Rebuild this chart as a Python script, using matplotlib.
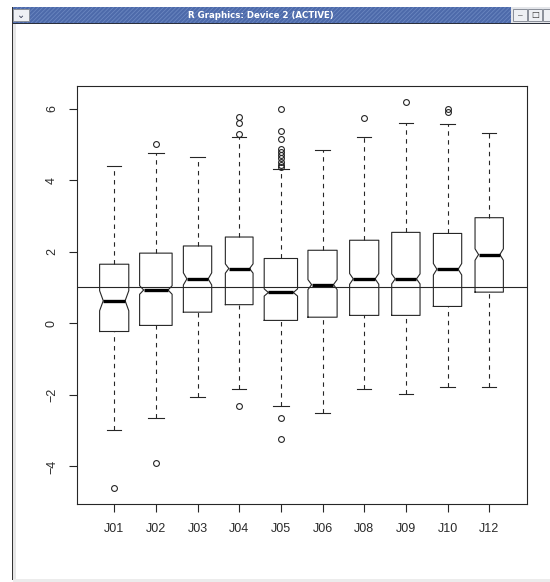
import matplotlib
matplotlib.use('Agg')
import matplotlib.pyplot as plt
from matplotlib.patches import Rectangle

plt.rcParams['font.family'] = ['Liberation Sans', 'DejaVu Sans']
plt.rcParams['hatch.linewidth'] = 0.6

W, H = 550, 582

# per-sample summary stats (notched boxplot)
labels = ['J01', 'J02', 'J03', 'J04', 'J05', 'J06', 'J08', 'J09', 'J10', 'J12']
whis_lo = [-2.98, -2.65, -2.05, -1.84, -2.31, -2.52, -1.84, -1.97, -1.77, -1.77]
q1 = [-0.23, -0.06, 0.31, 0.52, 0.08, 0.17, 0.22, 0.22, 0.47, 0.87]
medians = [0.63, 0.93, 1.24, 1.53, 0.86, 1.08, 1.24, 1.24, 1.51, 1.92]
q3 = [1.65, 1.96, 2.16, 2.41, 1.81, 2.04, 2.32, 2.54, 2.51, 2.95]
whis_hi = [4.39, 4.77, 4.64, 5.21, 4.31, 4.84, 5.21, 5.61, 5.56, 5.31]
notch_half = [0.28, 0.12, 0.17, 0.13, 0.10, 0.14, 0.15, 0.14, 0.16, 0.16]
fliers = [
    [-4.59],
    [5.00, -3.91],
    [],
    [5.75, 5.59, 5.29, -2.31],
    [5.99, 5.36, 5.14, 4.86, 4.79, 4.70, 4.61, 4.51, 4.42, 4.36, -2.65, -3.23],
    [],
    [5.73],
    [6.17],
    [5.98, 5.89],
    [],
]
box_widths = [0.70, 0.78, 0.68, 0.665, 0.80, 0.70, 0.70, 0.68, 0.68, 0.68]
ref_level = 1.0

lc = '#262626'


def pbox(x0, y0, x1, y1):
    # pixel box (top-left origin) -> figure fraction rectangle
    return (x0 / W, 1 - y1 / H), (x1 - x0) / W, (y1 - y0) / H


fig = plt.figure(figsize=(W / 100, H / 100), dpi=100)
fig.patch.set_facecolor('white')

# window decoration
xy, w, h = pbox(12, 7, 511, 23)
fig.add_artist(Rectangle(xy, w, h, transform=fig.transFigure, facecolor='#4d6aaa',
                         edgecolor='#6a86c0', hatch='////////', lw=0))
xy, w, h = pbox(511, 7, 550, 23)
fig.add_artist(Rectangle(xy, w, h, transform=fig.transFigure, facecolor='#e4e6ea', lw=0))
for bx in [(13, 29), (513, 527), (528, 542), (543, 557)]:
    xy, w, h = pbox(bx[0], 9, bx[1], 21)
    fig.add_artist(Rectangle(xy, w, h, transform=fig.transFigure, facecolor='#eef0f4',
                             edgecolor='#8a8f99', lw=0.7))
fig.text(21 / W, 1 - 15.5 / H, '\u2304', ha='center', va='center', fontsize=7,
         color='#333a55', family='DejaVu Sans')
fig.text(520 / W, 1 - 16 / H, '\u2013', ha='center', va='center', fontsize=6, color='#333')
fig.text(535 / W, 1 - 15 / H, '\u25a1', ha='center', va='center', fontsize=6, color='#333',
         family='DejaVu Sans')
fig.text(261 / W, 1 - 15 / H, 'R Graphics: Device 2 (ACTIVE)', ha='center', va='center',
         fontsize=6.2, color='white', fontweight='bold', family='DejaVu Sans')
xy, w, h = pbox(12, 23, 550, 24)
fig.add_artist(Rectangle(xy, w, h, transform=fig.transFigure, facecolor='#2a2f3a', lw=0))
xy, w, h = pbox(12, 7, 13, 580)
fig.add_artist(Rectangle(xy, w, h, transform=fig.transFigure, facecolor='#333333', lw=0))
xy, w, h = pbox(13, 24, 16, 579)
fig.add_artist(Rectangle(xy, w, h, transform=fig.transFigure, facecolor='#e6e6e6', lw=0))
xy, w, h = pbox(13, 579, 550, 582)
fig.add_artist(Rectangle(xy, w, h, transform=fig.transFigure, facecolor='#ececec', lw=0))

ax = fig.add_axes([76.7 / W, 1 - 504 / H, 450 / W, 418 / H])

for i in range(len(labels)):
    x = i + 1
    hw = box_widths[i] / 2
    nw = hw * 0.75
    med = medians[i]
    n_lo = med - notch_half[i]
    n_hi = med + notch_half[i]
    xs = [x - hw, x + hw, x + hw, x + nw, x + hw, x + hw, x - hw, x - hw, x - nw, x - hw, x - hw]
    ys = [q1[i], q1[i], n_lo, med, n_hi, q3[i], q3[i], n_hi, med, n_lo, q1[i]]
    ax.plot(xs, ys, color=lc, lw=0.8)
    ax.plot([x - nw, x + nw], [med, med], color='black', lw=2.4, solid_capstyle='butt')
    ax.plot([x, x], [whis_lo[i], q1[i]], color=lc, lw=0.8, ls=(0, (4, 4)))
    ax.plot([x, x], [q3[i], whis_hi[i]], color=lc, lw=0.8, ls=(0, (4, 4)))
    ax.plot([x - hw / 2, x + hw / 2], [whis_lo[i]] * 2, color=lc, lw=0.8)
    ax.plot([x - hw / 2, x + hw / 2], [whis_hi[i]] * 2, color=lc, lw=0.8)
    if fliers[i]:
        ax.plot([x] * len(fliers[i]), fliers[i], 'o', mfc='none', mec=lc, ms=4.2, mew=0.8)

ax.axhline(ref_level, color=lc, lw=0.8)

ax.set_xlim(0.1, 10.9)
ax.set_ylim(-5.05, 6.63)
ax.set_xticks(range(1, len(labels) + 1), labels)
ax.set_yticks([-4, -2, 0, 2, 4, 6])
for s in ax.spines.values():
    s.set_linewidth(0.8)
    s.set_color(lc)
ax.tick_params(length=5.5, width=0.8, labelsize=9, color=lc, labelcolor='#2a2a2a')
ax.tick_params(axis='x', pad=8)
ax.tick_params(axis='y', pad=8, labelrotation=90)
for t in ax.get_yticklabels():
    t.set_va('center')

fig.savefig('out.png', dpi=100)
